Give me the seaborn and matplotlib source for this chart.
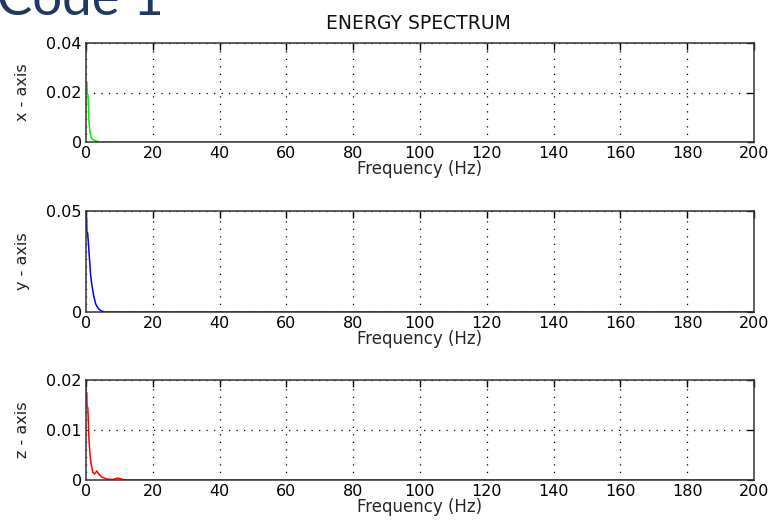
import matplotlib
matplotlib.use("Agg")
import matplotlib.pyplot as plt
import seaborn as sns
import pandas as pd

sns.set_style("white")
plt.rcParams['font.family'] = ['DejaVu Sans']

# Frequencies (Hz) and energy values
freq_x = [0.3, 0.35, 0.6, 0.9, 1.2, 1.5, 1.8, 2.1, 2.7, 3.3, 4.2, 200]
energy_x = [0.024, 0.0196, 0.019, 0.008, 0.004, 0.002, 0.0013, 0.001, 0.0006, 0.0003, 0.0, 0.0]

freq_y = [0.2, 0.25, 0.5, 0.8, 1.1, 1.4, 1.7, 2.0, 2.3, 2.6, 2.9, 3.2, 3.8, 4.4, 5.2, 6.2, 200]
energy_y = [0.0465, 0.0398, 0.039, 0.032, 0.025, 0.018, 0.014, 0.011, 0.008, 0.006, 0.004, 0.003,
            0.0015, 0.0007, 0.0002, 0.0, 0.0]

freq_z = [0.25, 0.3, 0.55, 0.85, 1.15, 1.45, 1.75, 2.05, 2.6, 3.2, 3.8, 4.7, 6.2, 8.0, 9.5, 11.0, 13.0, 200]
energy_z = [0.0175, 0.0146, 0.0145, 0.0086, 0.0055, 0.0035, 0.0025, 0.0015, 0.0012, 0.0018, 0.0012,
            0.0006, 0.0002, 0.0001, 0.0004, 0.0001, 0.0, 0.0]

x_ticks = [0, 20, 40, 60, 80, 100, 120, 140, 160, 180, 200]
series = [
    ("x - axis", freq_x, energy_x, "#00EE00", [0, 0.02, 0.04], ["0", "0.02", "0.04"], 0.04),
    ("y - axis", freq_y, energy_y, "#0000FF", [0, 0.05], ["0", "0.05"], 0.05),
    ("z - axis", freq_z, energy_z, "#FF0000", [0, 0.01, 0.02], ["0", "0.01", "0.02"], 0.02),
]

fig = plt.figure(figsize=(7.69, 5.31), dpi=100)
L, W = 86 / 769, 668 / 769
positions = [
    [L, 1 - 142 / 531, W, 99 / 531],
    [L, 1 - 312 / 531, W, 101 / 531],
    [L, 1 - 480 / 531, W, 100 / 531],
]

TFS = 11.5
LFS = 12
for (label, f, e, color, yt, ytl, ymax), pos in zip(series, positions):
    ax = fig.add_axes(pos)
    df = pd.DataFrame({"Frequency": f, "Energy": e})
    sns.lineplot(data=df, x="Frequency", y="Energy", ax=ax, color=color, linewidth=1.1,
                 estimator=None, sort=False)
    ax.set_xlim(0, 200)
    ax.set_ylim(0, ymax)
    ax.set_xticks(x_ticks)
    ax.set_xticklabels([str(t) for t in x_ticks])
    ax.set_yticks(yt)
    ax.set_yticklabels(ytl)
    ax.set_xlabel("Frequency (Hz)", fontsize=LFS, labelpad=-1)
    ax.set_ylabel(label, fontsize=TFS, labelpad=12, color="#222222")
    ax.grid(True, color="black", linestyle=(0, (1, 5)), linewidth=0.9)
    ax.tick_params(direction="in", length=5, width=1, top=True, right=True,
                   labelsize=TFS, colors="black", pad=3)
    for sp in ax.spines.values():
        sp.set_visible(True)
        sp.set_color("#333333")
        sp.set_linewidth(1.1)

fig.text(418 / 769, 1 - 29 / 531, "ENERGY SPECTRUM", ha="center", va="baseline", fontsize=13.5,
         color="#111111")
fig.text(-0.004, 1 - 15 / 531, "Code 1", ha="left", va="baseline", fontsize=38,
         color="#1F3864", family=["Lato", "DejaVu Sans"])

fig.savefig("out.png", dpi=100)
